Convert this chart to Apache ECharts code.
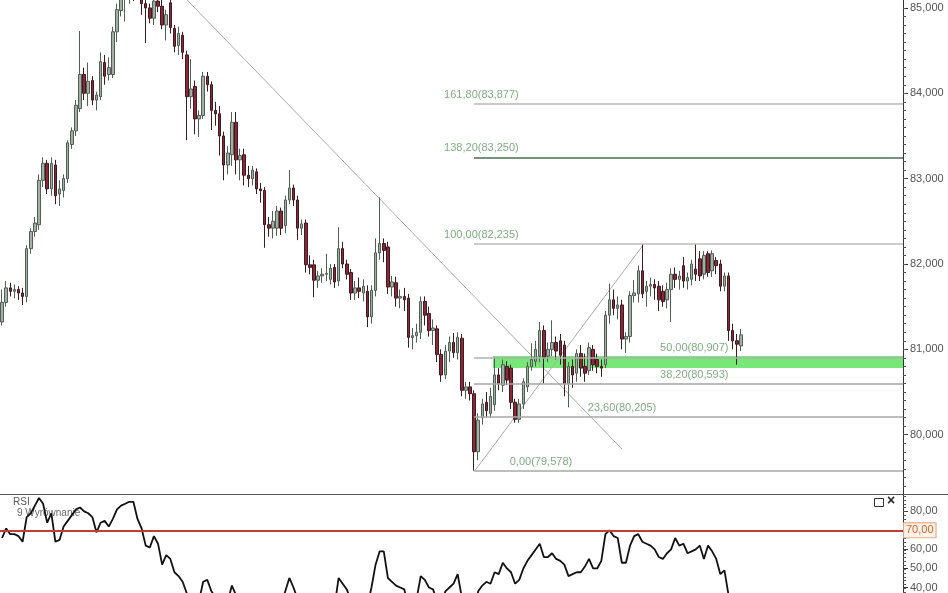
<!DOCTYPE html>
<html>
<head>
<meta charset="utf-8">
<script src="https://cdn.jsdelivr.net/npm/echarts@6/dist/echarts.min.js"></script>
<style>html,body{margin:0;padding:0;background:#fff;}#c{width:948px;height:593px;}</style>
</head>
<body>
<div id="c"></div>
<script>
// ---------- DATA ----------
const slotCount = 220; // category slots incl. empty future space
const opens = [81.32,81.55,81.72,81.68,81.70,81.66,81.62,82.18,82.38,82.46,82.98,83.18,82.88,83.16,82.82,82.86,83.00,83.40,83.56,83.82,
84.22,84.00,84.15,83.92,83.96,84.36,84.22,84.22,84.72,84.97,85.10,85.15,85.25,85.18,85.30,85.05,85.00,84.88,85.08,85.02,
84.80,85.06,84.76,84.56,84.68,84.45,83.96,84.08,83.70,83.74,84.20,84.10,83.80,83.76,83.50,83.16,83.28,83.66,83.22,83.28,
83.04,83.00,83.08,82.88,82.86,82.46,82.42,82.42,82.62,82.45,82.75,82.89,82.75,82.42,82.48,81.99,81.99,81.81,81.86,81.88,
81.82,81.96,81.80,82.18,82.00,81.90,81.66,81.72,81.66,81.68,81.38,81.69,82.13,82.24,82.20,81.73,81.78,81.60,81.62,81.60,
81.14,81.16,81.20,81.56,81.42,81.22,81.24,80.94,80.70,80.98,81.08,80.96,81.13,80.52,80.56,80.48,79.80,80.20,80.38,80.25,
80.35,80.70,80.58,80.80,80.78,80.38,80.18,80.36,80.56,80.80,80.86,80.92,81.22,80.92,81.00,81.08,81.10,81.05,80.60,80.80,
80.72,80.95,80.80,80.75,81.00,80.88,80.80,80.82,81.40,81.58,81.48,81.52,81.12,81.15,81.63,81.65,81.92,81.68,81.74,81.76,
81.74,81.68,81.58,81.70,81.88,81.82,81.98,81.80,81.82,81.94,82.06,81.88,82.12,81.92,82.04,82.00,81.74,81.86,81.22,81.10,
81.04];
const closes = [81.55,81.72,81.68,81.70,81.66,81.62,82.18,82.38,82.48,82.98,83.18,82.88,83.18,82.80,82.88,83.00,83.42,83.56,83.86,84.22,
84.00,84.14,83.92,83.98,84.37,84.20,84.30,84.72,84.98,85.10,85.15,85.25,85.18,85.30,85.05,85.00,84.88,85.08,85.02,84.80,
84.92,84.77,84.55,84.70,84.48,83.96,84.05,83.70,83.74,84.20,84.10,83.80,83.76,83.50,83.16,83.30,83.66,83.22,83.27,83.04,
83.00,83.10,82.88,82.86,82.46,82.42,82.50,82.62,82.42,82.75,82.89,82.75,82.42,82.47,81.99,81.96,81.81,81.86,81.88,81.89,
81.95,81.79,82.18,82.00,81.88,81.66,81.72,81.68,81.74,81.38,81.69,82.13,82.24,82.16,81.73,81.79,81.60,81.62,81.58,81.14,
81.16,81.20,81.56,81.40,81.22,81.25,80.94,80.70,80.98,81.08,80.96,81.14,80.52,80.56,80.48,79.80,80.17,80.36,80.28,80.45,
80.70,80.60,80.82,80.64,80.38,80.18,80.36,80.62,80.80,80.88,81.00,81.22,80.90,81.00,81.08,80.98,80.93,80.60,80.80,80.70,
80.95,80.78,80.72,81.02,80.82,80.80,80.78,81.40,81.58,81.48,81.52,81.12,81.15,81.63,81.66,81.92,81.65,81.74,81.76,81.72,
81.58,81.56,81.70,81.88,81.82,81.86,81.80,81.84,82.00,81.88,81.86,82.10,81.90,82.12,81.98,81.74,81.86,81.22,81.10,81.06,
81.17];
const lows = [81.28,81.50,81.62,81.60,81.58,81.52,81.55,82.12,82.32,82.40,82.90,82.82,82.80,82.70,82.68,82.78,82.95,83.35,83.50,83.78,
83.92,83.85,83.86,83.80,83.92,84.10,84.15,84.18,84.60,84.90,84.84,85.05,85.08,85.10,84.92,84.59,84.82,84.80,84.95,84.75,
84.62,84.70,84.48,84.45,84.40,83.45,83.82,83.52,83.49,83.70,84.02,83.57,83.62,83.27,82.98,83.05,83.15,83.05,82.98,82.92,
82.90,82.92,82.82,82.72,82.19,82.32,82.30,82.33,82.34,82.36,82.70,82.68,82.28,82.34,81.90,81.88,81.61,81.72,81.78,81.80,
81.76,81.72,81.74,81.95,81.82,81.58,81.58,81.60,81.56,81.26,81.30,81.62,82.05,82.02,81.65,81.62,81.50,81.48,81.45,81.02,
81.00,81.08,81.12,81.28,81.15,81.05,80.85,80.62,80.65,80.85,80.90,80.88,80.45,80.42,80.40,79.578,79.70,80.12,80.20,80.20,
80.28,80.52,80.50,80.58,80.30,80.14,80.14,80.30,80.50,80.75,80.80,80.85,80.60,80.85,80.92,80.88,80.82,80.45,80.32,80.55,
80.62,80.68,80.62,80.70,80.75,80.72,80.68,80.78,81.30,81.40,81.35,81.00,80.96,81.08,81.55,81.55,81.60,81.50,81.62,81.58,
81.45,81.50,81.48,81.32,81.72,81.70,81.72,81.70,81.75,81.80,81.80,81.82,81.85,81.85,81.88,81.68,81.68,81.10,81.00,80.82,
80.98];
const highs = [81.70,81.80,81.78,81.76,81.74,81.72,82.22,82.42,82.55,83.05,83.25,83.22,83.25,83.22,82.98,83.05,83.45,83.60,83.92,84.73,
84.30,84.36,84.20,84.02,84.48,84.45,84.42,84.78,85.05,85.20,85.30,85.40,85.38,85.42,85.35,85.15,85.05,85.15,85.20,85.12,
84.98,85.12,84.80,84.78,84.72,84.50,84.40,84.15,83.80,84.25,84.25,84.14,83.90,83.85,83.55,83.38,83.78,83.78,83.35,83.35,
83.15,83.15,83.12,82.95,82.90,82.55,82.62,82.68,82.66,82.80,83.10,82.93,82.80,82.52,82.52,82.10,82.05,81.92,81.95,82.12,
82.00,82.00,82.43,82.26,82.05,81.94,81.80,81.84,81.82,81.75,81.75,82.30,82.78,82.30,82.26,81.86,81.85,81.70,81.72,81.65,
81.25,81.30,81.62,81.62,81.50,81.35,81.28,81.00,81.05,81.15,81.19,81.20,81.18,80.62,80.62,80.52,80.25,80.42,80.50,80.55,
80.91,80.78,80.88,80.86,80.82,80.42,80.42,80.66,80.85,81.07,81.10,81.32,81.28,81.08,81.34,81.15,81.18,81.10,80.85,80.88,
81.00,81.05,80.95,81.08,81.05,80.95,80.88,81.45,81.77,81.70,81.62,81.58,81.20,81.68,81.81,81.98,82.236,81.80,81.84,81.82,
81.80,81.75,81.78,81.95,81.96,81.92,82.08,81.90,82.05,82.236,82.15,82.15,82.15,82.16,82.08,82.05,81.90,81.90,81.30,81.18,
81.24];
const rsi = [66,71,68,68,67,64,77,79,83,87,84,74,79,64,65,72,75,78,81,82,
80,79,77,69,74,75,72,76,81,83,84,85,85,76,71,62,61,67,63,52,
57,55,48,46,43,37,35,32,33,43,44,38,35,32,30,33,41,36,34,31,
32,33,31,30,26,27,30,33,31,38,45,40,34,35,27,27,24,26,28,29,
31,30,45,42,39,33,34,33,35,30,40,52,59,59,45,43,41,40,39,30,
31,34,46,44,40,39,33,31,38,40,42,47,35,35,34,28,38,41,43,42,
48,47,53,50,48,42,44,50,54,57,60,63,56,56,58,55,54,52,46,47,
48,48,51,55,50,50,54,68,70,67,66,53,53,62,67,68,64,63,62,60,
56,55,58,60,66,62,63,58,59,60,62,55,62,59,55,47,49,36,32,30,
33];
const priceTicks = [80, 81, 82, 83, 84, 85];
const rsiTicks = [40, 50, 60, 80];
const rsiLevel = 70;
// Fibonacci retracement (percent, price)
const fibPct   = [0, 23.6, 38.2, 50, 100, 138.2, 161.8];
const fibPrice = [79.578, 80.205, 80.593, 80.907, 82.235, 83.250, 83.877];
const fibStartIdx = 115;                 // swing low bar
const fibLabelIdx = [123.7, 142.7, 160.3, 160.3, 107.7, 107.7, 107.7];
// trend lines: [index, price]
const trendDown = [[42.13, 85.24], [151.02, 79.832]];
const trendUp   = [[115.2, 79.578], [156.4, 82.236]];
// highlighted zone
const zoneStartIdx = 119.6;
const zoneTop = 80.922, zoneBottom = 80.78;

// ---------- BUILD ----------
const fmt = (v, d) => v.toFixed(d).replace('.', ',');
const slots = Array.from({length: slotCount}, (_, i) => String(i));
const candles = opens.map((o, i) => [o, closes[i], lows[i], highs[i]]);
const xMax = slotCount - 0.5;
const fibColors = ['#a9a9a9', '#a9a9a9', '#a5a5a5', '#b0b0b0', '#bdbdbd', '#4d6b4f', '#b8b8b8'];
const minorPrice = []; for (let v = 79.4; v < 85.1; v += 0.1) minorPrice.push(+v.toFixed(1));
const minorRsi = []; for (let v = 38; v < 89; v += 2) minorRsi.push(v);
const FONT = 'Liberation Sans, Arial, sans-serif';
const PMIN = 79.305, PMAX = 85.093, RMIN = 37.55, RMAX = 89.1;

const mainRect = {left: 0, right: 45, top: 0, height: 494};
const rsiRect  = {left: 0, right: 45, top: 494, height: 99};
const hiddenX = g => ({type: 'value', gridIndex: g, min: -0.5, max: xMax, show: false,
                       axisLine: {onZero: false}});

const chart = echarts.init(document.getElementById('c'), null, {renderer: 'canvas'});
chart.setOption({
  animation: false,
  backgroundColor: '#ffffff',
  textStyle: {fontFamily: FONT},
  grid: [
    Object.assign({}, mainRect),
    Object.assign({}, rsiRect),
    Object.assign({}, mainRect),   // for minor ticks
    Object.assign({}, rsiRect)     // for minor ticks
  ],
  xAxis: [
    {type: 'category', gridIndex: 0, data: slots, boundaryGap: true, show: false, axisLine: {onZero: false}},
    hiddenX(0), hiddenX(1), hiddenX(2), hiddenX(3)
  ],
  yAxis: [
    {type: 'value', gridIndex: 0, position: 'right', min: PMIN, max: PMAX, scale: true,
     axisLine: {show: true, onZero: false, lineStyle: {color: '#333', width: 1}},
     axisTick: {show: true, customValues: priceTicks, length: 5, lineStyle: {color: '#333'}},
     axisLabel: {show: true, customValues: priceTicks, margin: 7, color: '#555', fontSize: 11, fontFamily: FONT,
                 formatter: v => fmt(v, 3)},
     splitLine: {show: false}},
    {type: 'value', gridIndex: 1, position: 'right', min: RMIN, max: RMAX, scale: true,
     axisLine: {show: true, onZero: false, lineStyle: {color: '#333', width: 1}},
     axisTick: {show: true, customValues: rsiTicks, length: 5, lineStyle: {color: '#333'}},
     axisLabel: {show: true, customValues: rsiTicks, margin: 7, color: '#555', fontSize: 11, fontFamily: FONT,
                 formatter: v => fmt(v, 2)},
     splitLine: {show: false}},
    {type: 'value', gridIndex: 2, position: 'right', min: PMIN, max: PMAX, scale: true,
     axisLine: {show: false, onZero: false},
     axisTick: {show: true, customValues: minorPrice, length: 3, lineStyle: {color: '#555'}},
     axisLabel: {show: false}, splitLine: {show: false}},
    {type: 'value', gridIndex: 3, position: 'right', min: RMIN, max: RMAX, scale: true,
     axisLine: {show: false, onZero: false},
     axisTick: {show: true, customValues: minorRsi, length: 3, lineStyle: {color: '#555'}},
     axisLabel: {show: false}, splitLine: {show: false}}
  ],
  series: [
    { // highlighted zone
      type: 'line', xAxisIndex: 1, yAxisIndex: 0, data: [], z: 1, silent: true,
      markArea: {silent: true, itemStyle: {color: 'rgba(95,228,95,0.85)'},
        data: [[{coord: [zoneStartIdx, zoneTop]}, {coord: [xMax, zoneBottom]}]]}
    },
    { // fib levels
      type: 'line', xAxisIndex: 1, yAxisIndex: 0, data: [], z: 2, silent: true,
      markLine: {silent: true, symbol: ['none', 'none'], label: {show: false},
        data: fibPrice.map((p, k) => [
          {coord: [fibStartIdx, p], lineStyle: {color: fibColors[k], width: 1.5, type: 'solid'}},
          {coord: [xMax, p]}
        ])}
    },
    { // trend lines
      type: 'line', xAxisIndex: 1, yAxisIndex: 0, data: trendDown, z: 2, silent: true,
      showSymbol: false, lineStyle: {color: '#ababab', width: 1}
    },
    {
      type: 'line', xAxisIndex: 1, yAxisIndex: 0, data: trendUp, z: 2, silent: true,
      showSymbol: false, lineStyle: {color: '#ababab', width: 1}
    },
    { // candles
      type: 'candlestick', xAxisIndex: 0, yAxisIndex: 0, data: candles, z: 3, barWidth: 3,
      itemStyle: {color: '#a3afa3', color0: '#8a2839', borderColor: '#4f5f53', borderColor0: '#3e1a21', borderWidth: 1}
    },
    { // fib labels
      type: 'scatter', xAxisIndex: 1, yAxisIndex: 0, z: 4, silent: true, symbolSize: 0,
      data: fibPrice.map((p, k) => ({value: [fibLabelIdx[k], p], name: fmt(fibPct[k], 2) + '(' + fmt(p, 3) + ')'})),
      label: {show: true, position: 'right', distance: 0, offset: [0, -9], formatter: '{b}',
              color: '#5f9660', fontSize: 11, fontFamily: FONT}
    },
    { // RSI
      type: 'line', xAxisIndex: 2, yAxisIndex: 1, z: 3, silent: true, showSymbol: false,
      data: rsi.map((v, i) => [i, v]),
      lineStyle: {color: '#111', width: 1.8},
      markLine: {silent: true, symbol: ['none', 'none'],
        lineStyle: {color: '#c63a3a', width: 2, type: 'solid'},
        label: {show: true, position: 'end', distance: 1, formatter: fmt(rsiLevel, 2),
                color: '#d9602a', fontSize: 11, fontFamily: FONT,
                backgroundColor: '#fff3e8', borderColor: '#e6a27a', borderWidth: 1, padding: [2, 2, 1, 2]},
        data: [{yAxis: rsiLevel}]}
    }
  ],
  graphic: [
    {type: 'line', shape: {x1: 0, y1: 494.5, x2: 948, y2: 494.5}, style: {stroke: '#555', lineWidth: 1}, z: 10},
    {type: 'text', left: 13, top: 497, style: {text: 'RSI', fill: '#555', font: '10px ' + FONT}, z: 10},
    {type: 'text', left: 17, top: 508, style: {text: '9 Wyrównanie', fill: '#666', font: '10px ' + FONT}, z: 1},
    {type: 'rect', shape: {x: 874.5, y: 498.5, width: 9, height: 8}, style: {stroke: '#333', fill: '#fff', lineWidth: 1}, z: 10},
    {type: 'text', left: 887, top: 494, style: {text: '×', fill: '#222', font: 'bold 14px ' + FONT}, z: 10}
  ]
});
</script>
</body>
</html>
